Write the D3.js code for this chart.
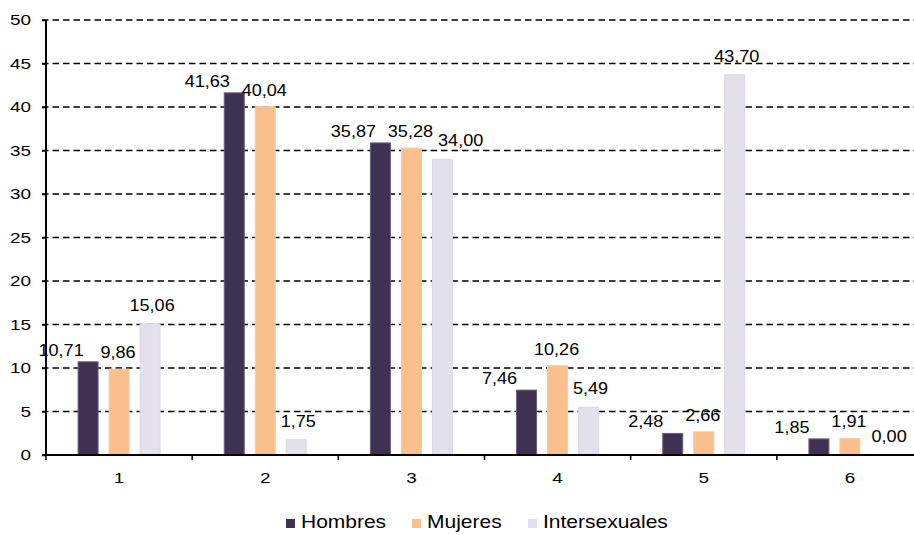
<!DOCTYPE html>
<html>
<head>
<meta charset="utf-8">
<script src="https://cdn.jsdelivr.net/npm/d3@7"></script>
<style>
  html, body { margin: 0; padding: 0; background: #fff; }
  svg { display: block; font-family: "Liberation Sans", Arial, sans-serif; }
</style>
</head>
<body>
<svg id="chart" width="914" height="535"></svg>
<script>
const categories = ["1", "2", "3", "4", "5", "6"];
const seriesNames = ["Hombres", "Mujeres", "Intersexuales"];
const hombres = [10.71, 41.63, 35.87, 7.46, 2.48, 1.85];
const mujeres = [9.86, 40.04, 35.28, 10.26, 2.66, 1.91];
const intersexuales = [15.06, 1.75, 34.00, 5.49, 43.70, 0.00];
const yTicks = [0, 5, 10, 15, 20, 25, 30, 35, 40, 45, 50];

(function() {
const seriesValues = [hombres, mujeres, intersexuales];
const colors = ["#3f3152", "#f9c08e", "#e3dfeb"];
const strokes = ["#6a5f7a", "#f4caa4", "#dcd8e6"];
const labelDx = [-27, -1, 2];
const labelDy = [-6, -11, -13];

const svg = d3.select("#chart");
const mLeft = 46, mRight = 923, mTop = 20, mBottom = 455;

const x0 = d3.scaleBand().domain(categories).range([mLeft, mRight]).padding(0);
const x1 = d3.scaleBand().domain(seriesNames).range([0, x0.bandwidth()])
  .paddingInner(0.355).paddingOuter(1.035);
const y = d3.scaleLinear().domain([0, 50]).range([mBottom, mTop]);

const fmt = v => d3.format(".2f")(v).replace(".", ",");

// gridlines
svg.append("g").selectAll("line").data(yTicks.filter(t => t > 0)).join("line")
  .attr("x1", mLeft - 4).attr("x2", 914)
  .attr("y1", d => y(d)).attr("y2", d => y(d))
  .attr("stroke", "#000").attr("stroke-width", 1.5)
  .attr("stroke-dasharray", "6.5,4");

// y axis
const yAxis = d3.axisLeft(y).tickValues(yTicks).tickSize(4).tickPadding(11).tickFormat(d3.format("d"));
const gy = svg.append("g").attr("transform", `translate(${mLeft},0)`).call(yAxis);
gy.select(".domain").attr("stroke", "#000").attr("stroke-width", 2).attr("d", `M0,${mTop}V${mBottom}`);
gy.selectAll(".tick line").attr("stroke", "#000").attr("stroke-width", 1.5);
gy.selectAll(".tick text")
  .attr("font-size", 15.5).attr("fill", "#000")
  .attr("font-family", '"Liberation Sans", Arial, sans-serif')
  .each(function() {
    const t = d3.select(this);
    const xx = +t.attr("x");
    t.attr("x", null).attr("transform", `translate(${xx},0) scale(1.22,1)`);
  });

// bars
const groups = svg.append("g").selectAll("g").data(categories).join("g")
  .attr("transform", d => `translate(${x0(d)},0)`);

const rows = (c, i) => seriesNames.map((s, j) => ({s, j, v: seriesValues[j][i]}));

groups.selectAll("rect").data(rows).join("rect")
  .attr("x", d => x1(d.s))
  .attr("width", x1.bandwidth())
  .attr("y", d => y(d.v))
  .attr("height", d => mBottom - y(d.v))
  .attr("fill", d => colors[d.j])
  .attr("stroke", d => d.v > 0 ? strokes[d.j] : "none")
  .attr("stroke-width", 1);

// labels with simple collision avoidance
const fs = 16, sx = 1.13;
groups.each(function(c, i) {
  const g = d3.select(this);
  const items = rows(c, i);
  let prev = null;
  items.forEach(d => {
    const t = g.append("text")
      .attr("text-anchor", "middle")
      .attr("font-size", fs)
      .attr("fill", "#000")
      .text(fmt(d.v));
    const w = t.node().getComputedTextLength() * sx;
    let cx = x1(d.s) + x1.bandwidth() / 2 + labelDx[d.j];
    const by = y(d.v) + labelDy[d.j];
    if (prev && Math.abs(by - prev.by) < fs && cx - w / 2 < prev.right + 5) {
      cx = prev.right + 5 + w / 2;
    }
    t.attr("transform", `translate(${cx},${by}) scale(${sx},1)`);
    prev = {right: cx + w / 2, by};
  });
});

// x axis
const xAxis = d3.axisBottom(x0).tickSize(0).tickPadding(17);
const gx = svg.append("g").attr("transform", `translate(0,${mBottom})`).call(xAxis);
gx.select(".domain").attr("stroke", "#000").attr("stroke-width", 2).attr("d", `M${mLeft - 4},0H914`);
gx.selectAll(".tick text").attr("font-size", 15.5).attr("fill", "#000")
  .attr("font-family", '"Liberation Sans", Arial, sans-serif')
  .each(function() {
    const t = d3.select(this);
    const yy = +t.attr("y");
    t.attr("y", null).attr("transform", `translate(0,${yy}) scale(1.22,1)`);
  });
// boundary ticks
svg.append("g").selectAll("line").data(categories).join("line")
  .attr("x1", d => x0(d)).attr("x2", d => x0(d))
  .attr("y1", mBottom).attr("y2", mBottom + 5)
  .attr("stroke", "#000").attr("stroke-width", 1.5);

// legend
const legendX = [286, 412, 528];
const lg = svg.append("g").selectAll("g").data(seriesNames).join("g")
  .attr("transform", (d, i) => `translate(${legendX[i]},518)`);
lg.append("rect").attr("x", 0).attr("y", 1).attr("width", 9).attr("height", 9)
  .attr("fill", (d, i) => colors[i]);
lg.append("text").attr("transform", "translate(15,10) scale(1.2,1)")
  .attr("font-size", 17.5).attr("fill", "#000").text(d => d);
})();
</script>
</body>
</html>
